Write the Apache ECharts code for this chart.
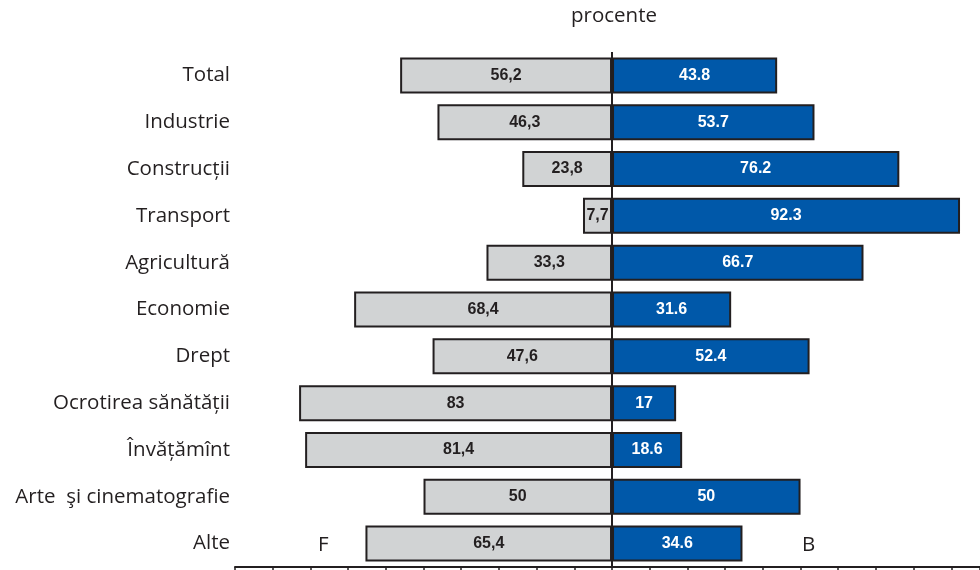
<!DOCTYPE html>
<html>
<head>
<meta charset="utf-8">
<script src="https://cdn.jsdelivr.net/npm/echarts@6/dist/echarts.min.js"></script>
<style>
  html, body { margin: 0; padding: 0; background: #fff; }
  #chart { width: 980px; height: 570px; }
</style>
</head>
<body>
<div id="chart"></div>
<script>
var categories = ['Total', 'Industrie', 'Construcții', 'Transport', 'Agricultură', 'Economie',
    'Drept', 'Ocrotirea sănătății', 'Învățămînt', 'Arte  şi cinematografie', 'Alte'];
var femei = [56.2, 46.3, 23.8, 7.7, 33.3, 68.4, 47.6, 83, 81.4, 50, 65.4];
var barbati = [43.8, 53.7, 76.2, 92.3, 66.7, 31.6, 52.4, 17, 18.6, 50, 34.6];

var dom = document.getElementById('chart');
var myChart = echarts.init(dom);

var textFont = '"Open Sans", "Noto Sans", sans-serif';
var labelFont = '"Liberation Sans", Arial, sans-serif';

var option = {
    animation: false,
    grid: { left: 235, right: 0, top: 52, bottom: 3 },
    xAxis: {
        type: 'value',
        min: -100,
        max: 97.6,
        interval: 10,
        axisLine: { show: true, lineStyle: { color: '#231f20', width: 2 } },
        axisTick: { show: true, length: 4, lineStyle: { color: '#231f20', width: 1.5 } },
        axisLabel: { show: false },
        splitLine: { show: false }
    },
    yAxis: {
        type: 'category',
        inverse: true,
        data: categories,
        axisLine: { show: false },
        axisTick: { show: false },
        axisLabel: {
            margin: 5,
            color: '#231f20',
            fontFamily: textFont,
            fontSize: 20.5
        }
    },
    graphic: [
        { type: 'text', left: 571, top: 6, style: { text: 'procente', fontFamily: textFont, fontSize: 20.5, fill: '#231f20' } },
        { type: 'text', left: 318, top: 535, style: { text: 'F', fontFamily: textFont, fontSize: 20.5, fill: '#231f20' } },
        { type: 'text', left: 802, top: 535, style: { text: 'B', fontFamily: textFont, fontSize: 20.5, fill: '#231f20' } }
    ],
    series: [
        {
            name: 'F',
            type: 'bar',
            barWidth: 36,
            barGap: '-100%',
            data: femei.map(function (v) { return -v; }),
            itemStyle: { color: '#d1d3d4', borderColor: '#231f20', borderWidth: 2 },
            label: {
                show: true,
                position: 'inside',
                color: '#231f20',
                fontFamily: labelFont,
                fontWeight: 'bold',
                fontSize: 16,
                formatter: function (p) { return String(Math.abs(p.value)).replace('.', ','); }
            }
        },
        {
            name: 'B',
            type: 'bar',
            barWidth: 36,
            data: barbati,
            itemStyle: { color: '#0058a9', borderColor: '#231f20', borderWidth: 2 },
            label: {
                show: true,
                position: 'inside',
                color: '#ffffff',
                fontFamily: labelFont,
                fontWeight: 'bold',
                fontSize: 16,
                formatter: function (p) { return String(p.value); }
            },
            markLine: {
                silent: true,
                symbol: 'none',
                label: { show: false },
                lineStyle: { color: '#231f20', width: 2, type: 'solid' },
                data: [{ xAxis: 0 }]
            }
        }
    ]
};

if (option && typeof option === 'object') {
    myChart.setOption(option, true);
}
</script>
</body>
</html>
